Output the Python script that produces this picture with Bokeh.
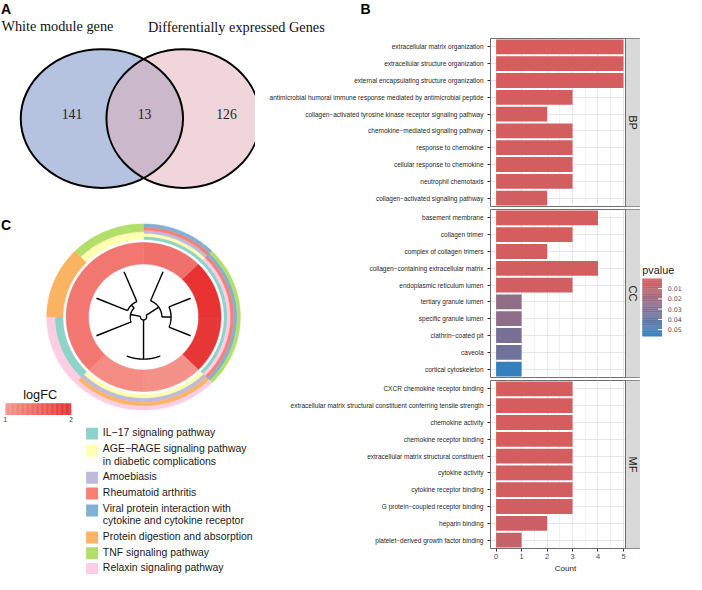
import numpy as np
from bokeh.plotting import figure
from bokeh.models import (Range1d, FactorRange, ColumnDataSource, LinearColorMapper,
                          FixedTicker, Span, BoxAnnotation, Label)
from bokeh.layouts import row, column
from bokeh.embed import file_html
from bokeh.resources import INLINE
from bokeh.core.properties import value
from bokeh.transform import transform

SANS = "Liberation Sans"
SERIF = "Liberation Serif"

# ---------------- data ----------------
venn_names = ["White module gene", "Differentially expressed Genes"]
venn_counts = [141, 13, 126]          # left only, both, right only

bp_terms = ["extracellular matrix organization",
            "extracellular structure organization",
            "external encapsulating structure organization",
            "antimicrobial humoral immune response mediated by antimicrobial peptide",
            "collagen\u2212activated tyrosine kinase receptor signaling pathway",
            "chemokine\u2212mediated signaling pathway",
            "response to chemokine",
            "cellular response to chemokine",
            "neutrophil chemotaxis",
            "collagen\u2212activated signaling pathway"]
bp_counts = [5, 5, 5, 3, 2, 3, 3, 3, 3, 2]
bp_pvalues = [0.0001, 0.0001, 0.0001, 0.0008, 0.001, 0.001, 0.001, 0.001, 0.001, 0.0015]

cc_terms = ["basement membrane",
            "collagen trimer",
            "complex of collagen trimers",
            "collagen\u2212containing extracellular matrix",
            "endoplasmic reticulum lumen",
            "tertiary granule lumen",
            "specific granule lumen",
            "clathrin\u2212coated pit",
            "caveola",
            "cortical cytoskeleton"]
cc_counts = [4, 3, 2, 4, 3, 1, 1, 1, 1, 1]
cc_pvalues = [0.0002, 0.0005, 0.0008, 0.001, 0.002, 0.024, 0.025, 0.033, 0.036, 0.0565]

mf_terms = ["CXCR chemokine receptor binding",
            "extracellular matrix structural constituent conferring tensile strength",
            "chemokine activity",
            "chemokine receptor binding",
            "extracellular matrix structural constituent",
            "cytokine activity",
            "cytokine receptor binding",
            "G protein\u2212coupled receptor binding",
            "heparin binding",
            "platelet\u2212derived growth factor binding"]
mf_counts = [3, 3, 3, 3, 3, 3, 3, 3, 2, 1]
mf_pvalues = [0.0001, 0.0002, 0.0003, 0.0005, 0.001, 0.001, 0.001, 0.002, 0.004, 0.006]

facet_names = ["BP", "CC", "MF"]
count_ticks = [0, 1, 2, 3, 4, 5]
pvalue_ticks = [0.01, 0.02, 0.03, 0.04, 0.05]

kegg_pathways = ["IL\u221217 signaling pathway",
                 "AGE\u2212RAGE signaling pathway\nin diabetic complications",
                 "Amoebiasis",
                 "Rheumatoid arthritis",
                 "Viral protein interaction with\ncytokine and cytokine receptor",
                 "Protein digestion and absorption",
                 "TNF signaling pathway",
                 "Relaxin signaling pathway"]
kegg_colors = ["#8dd3c7", "#ffffb3", "#bebada", "#fb8072",
               "#80b1d3", "#fdb462", "#b3de69", "#fccde5"]
gene_logfc = [1.35, 1.95, 1.9, 1.05, 1.1, 1.3, 1.3, 1.3]
gene_pathways = [[0, 1, 2, 3, 4], [0, 7, 3, 4, 6], [0, 7, 3, 4, 6], [1, 2, 5, 7],
                 [1, 2, 5, 7], [0, 7], [5], [1, 6]]
leaf_depth = [50, 50, 50, 43, 43, 50, 50, 50]
node_children = [[1, 2], [0, 8], [3, 4], [6, 7], [5, 11], [9, 10, 12]]
node_depth = [27, 18, 43, 17, 13, 3]
logfc_ticks = [1, 2]


def ramp(c0, c1, n=256):
    a = np.array([int(c0[i:i + 2], 16) for i in (1, 3, 5)], float)
    b = np.array([int(c1[i:i + 2], 16) for i in (1, 3, 5)], float)
    t = np.linspace(0, 1, n)[:, None]
    rgb = a + (b - a) * t
    return ["#%02x%02x%02x" % tuple(int(round(v)) for v in c) for c in rgb]


# content px = S * (reference px) - 2
S = 0.98
X0 = 2.0 / S


def blank(w, h, x0, y0):
    f = figure(width=w, height=h, x_range=Range1d(x0, x0 + w / S),
               y_range=Range1d(y0 + h / S, y0), output_backend="svg",
               toolbar_location=None, min_border=0, title=None)
    f.axis.visible = False
    f.grid.visible = False
    f.outline_line_color = None
    return f


# ---------------- top strip: panel letters A, B and Venn titles ----------------
TW, TH = 686, 38
T = blank(TW, TH, X0, X0)
T.text(x=[2.5, 369.5], y=[10.6, 10.6], text=["A", "B"], text_font=value(SANS),
       text_font_style="bold", text_font_size="14px", text_color="black",
       text_baseline="middle", text_align="left")
T.text(x=[3, 152.5], y=[28.2, 29.2], text=venn_names, text_font=value(SERIF),
       text_font_size="14.3px", text_color="#111111", text_baseline="middle",
       text_align="left")
Y_SPLIT = X0 + TH / S

# ---------------- left figure (Venn circles + C) ----------------
LW, LH = 255, 574 - TH
L = blank(LW, LH, X0, Y_SPLIT)

L.text(x=[2.5], y=[231.0], text=["C"], text_font=value(SANS),
       text_font_style="bold", text_font_size="14px", text_color="black",
       text_baseline="middle", text_align="left")

vx = [105.5, 188.5]
vy = [122.5, 122.5]
vw = [165.6, 156.7]
vh = [141.6, 141.6]
L.ellipse(x=vx[0], y=vy[0], width=vw[0], height=vh[0], fill_color="#b5c3e1", line_color=None)
L.ellipse(x=vx[1], y=vy[1], width=vw[1], height=vh[1], fill_color="#e1adb5",
          fill_alpha=0.5, line_color=None)
L.ellipse(x=vx, y=vy, width=vw, height=vh, fill_color=None, line_color="black", line_width=2)
L.text(x=[75, 149, 232.7], y=[117.9] * 3, text=[str(v) for v in venn_counts],
       text_font=value(SERIF), text_font_size="13.7px", text_color="#222222",
       text_baseline="middle", text_align="center")

# circular KEGG plot
cx, cy, kx = 148.0, 325.0, 1.04
n_leaf = len(gene_logfc)
sec = 360.0 / n_leaf


def arc_xy(r, a):
    a = np.radians(np.asarray(a, float))
    return cx + r * kx * np.sin(a), cy - r * np.cos(a)


def sector(r0, r1, a0, a1, n=40):
    th = np.linspace(a0, a1, n)
    xo, yo = arc_xy(r1, th)
    xi, yi = arc_xy(r0, th[::-1])
    return list(np.r_[xo, xi]), list(np.r_[yo, yi])


band_xs, band_ys, band_c = [], [], []
R_B0, R_B1 = 79.0, 95.0
for g, pw in enumerate(gene_pathways):
    step = (R_B1 - R_B0) / len(pw)
    for j, k in enumerate(pw):
        xs_, ys_ = sector(R_B0 + j * step, R_B0 + (j + 1) * step, g * sec, (g + 1) * sec)
        band_xs.append(xs_); band_ys.append(ys_); band_c.append(kegg_colors[k])
L.patches(xs=band_xs, ys=band_ys, fill_color=band_c, line_color=band_c, line_width=0.5)

fc_mapper = LinearColorMapper(palette=ramp("#F5968C", "#E62D2D"), low=1, high=2)
fc_xs, fc_ys = [], []
for g in range(n_leaf):
    xs_, ys_ = sector(54.0, 76.0, g * sec, (g + 1) * sec)
    fc_xs.append(xs_); fc_ys.append(ys_)
fc_src = ColumnDataSource(dict(xs=fc_xs, ys=fc_ys, logfc=gene_logfc))
L.patches(xs="xs", ys="ys", source=fc_src, fill_color=transform("logfc", fc_mapper),
          line_color=transform("logfc", fc_mapper), line_width=0.5)

# dendrogram
ang = [sec * (i + 0.5) for i in range(n_leaf)]
dep = list(leaf_depth)
for ch, d in zip(node_children, node_depth):
    ang.append(float(np.mean([ang[c] for c in ch])))
    dep.append(d)
dxs, dys = [], []
for ch, d in zip(node_children, node_depth):
    for c in ch:
        x_, y_ = arc_xy(np.array([d, dep[c]], float), [ang[c], ang[c]])
        dxs.append(list(x_)); dys.append(list(y_))
    th = np.linspace(min(ang[c] for c in ch), max(ang[c] for c in ch), 60)
    x_, y_ = arc_xy(d, th)
    dxs.append(list(x_)); dys.append(list(y_))
L.multi_line(xs=dxs, ys=dys, line_color="black", line_width=1.4)

# logFC gradient legend
L.text(x=[42.5], y=[405.0], text=["logFC"], text_font=value(SANS), text_font_size="12.7px",
       text_color="#111111", text_baseline="middle", text_align="center")
gv = np.linspace(1, 2, 80)
gx = 7 + (gv - 1) * 67
grad_src = ColumnDataSource(dict(left=gx[:-1], right=gx[1:] + 0.3,
                                 v=(gv[:-1] + gv[1:]) / 2))
L.quad(left="left", right="right", top=413, bottom=425, source=grad_src,
       fill_color=transform("v", fc_mapper), line_color=None)
L.text(x=[7 + (t - 1) * 67 for t in logfc_ticks], y=[429.8] * 2,
       text=[str(t) for t in logfc_ticks], text_font=value(SANS), text_font_size="6.5px",
       text_color="#333333", text_baseline="middle", text_align="center")

# KEGG legend
lt_x, lt_y, lt_t, sq_y = [], [], [], []
yy = 443.0
for name in kegg_pathways:
    lines = name.split("\n")
    sq_y.append(yy + 1 + 1.5 * (len(lines) - 1))
    for j, ln in enumerate(lines):
        lt_x.append(106.5); lt_y.append(yy + 13 * j); lt_t.append(ln)
    yy += 13 * (len(lines) - 1) + 16
L.rect(x=[95.5] * len(sq_y), y=sq_y, width=12.2, height=12.2, fill_color=kegg_colors,
       line_color=None)
L.text(x=lt_x, y=lt_y, text=lt_t, text_font=value(SANS), text_font_size="10.45px",
       text_color="#1a1a1a", text_baseline="middle", text_align="left")

# ---------------- panel B facets ----------------
XMIN, XPANEL = -0.22, 5.08
FW_DATA, FW_STRIP = 135, 15
XMAX = XPANEL + FW_STRIP * (XPANEL - XMIN) / FW_DATA
FH = 168
BLEFT = 235

pmin = min(bp_pvalues + cc_pvalues + mf_pvalues)
pmax = max(bp_pvalues + cc_pvalues + mf_pvalues)
p_mapper = LinearColorMapper(palette=ramp("#D65D5D", "#3480BE"), low=pmin, high=pmax)


def facet(terms, counts, pvals, strip, bottom, show_x):
    src = ColumnDataSource(dict(term=terms, count=counts, p=pvals))
    f = figure(y_range=FactorRange(factors=terms[::-1]), x_range=Range1d(XMIN, XMAX),
               frame_width=FW_DATA + FW_STRIP, frame_height=FH, title=None,
               min_border_left=BLEFT, min_border_right=0, min_border_top=0,
               min_border_bottom=bottom, output_backend="svg", toolbar_location=None)
    f.hbar(y="term", left=0, right="count", height=0.88, source=src,
           fill_color=transform("p", p_mapper), line_color=None)
    f.xgrid.ticker = FixedTicker(ticks=count_ticks,
                                 minor_ticks=[t + 0.5 for t in count_ticks[:-1]])
    f.xgrid.grid_line_color = "#e6e6e6"
    f.xgrid.minor_grid_line_color = "#f0f0f0"
    f.ygrid.grid_line_color = "#e6e6e6"
    f.outline_line_color = "#6e6e6e"
    f.outline_line_width = 1
    f.add_layout(BoxAnnotation(left=XPANEL, fill_color="#d9d9d9", fill_alpha=1,
                               line_color=None))
    f.add_layout(Span(location=XPANEL, dimension="height", line_color="#6e6e6e",
                      line_width=1))
    f.add_layout(Label(x=(XPANEL + XMAX) / 2, y=len(terms) / 2, text=strip,
                       angle=-np.pi / 2, text_align="center", text_baseline="middle",
                       text_font=SANS, text_font_size="11px", text_color="#1a1a1a"))
    ax = f.yaxis[0]
    ax.major_label_text_font = SANS
    ax.major_label_text_font_size = "6.5px"
    ax.major_label_text_color = "#262626"
    ax.major_tick_out = 3
    ax.major_tick_in = 0
    ax.major_tick_line_color = "#333333"
    ax.axis_line_color = None
    ax.major_label_standoff = 4
    xa = f.xaxis[0]
    if show_x:
        xa.ticker = FixedTicker(ticks=count_ticks)
        xa.minor_tick_line_color = None
        xa.major_label_text_font = SANS
        xa.major_label_text_font_size = "7.5px"
        xa.major_label_text_color = "#4d4d4d"
        xa.major_tick_out = 3
        xa.major_tick_in = 0
        xa.major_tick_line_color = "#333333"
        xa.axis_line_color = None
        xa.major_label_standoff = 2
        xa.axis_label = "Count"
        xa.axis_label_text_font = SANS
        xa.axis_label_text_font_size = "8px"
        xa.axis_label_text_font_style = "normal"
        xa.axis_label_text_color = "#1a1a1a"
        xa.axis_label_standoff = 2
    else:
        xa.visible = False
    f.background_fill_color = "white"
    f.border_fill_color = "white"
    return f


fbp = facet(bp_terms, bp_counts, bp_pvalues, facet_names[0], 3, False)
fcc = facet(cc_terms, cc_counts, cc_pvalues, facet_names[1], 3, False)
fmf = facet(mf_terms, mf_counts, mf_pvalues, facet_names[2], 0, True)

# ---------------- pvalue colour bar (beside CC facet) ----------------
CBW, CBH = 44, FH + 3
cb_x0 = X0 + (LW + BLEFT + FW_DATA + FW_STRIP) / S
cb_y0 = Y_SPLIT + (FH + 3) / S
C = blank(CBW, CBH, cb_x0, cb_y0)
bar_top, bar_h, bar_l, bar_w = 287.0, 60.0, 657.0, 20.0


def p_to_y(p):
    return bar_top + (np.asarray(p, float) - pmin) / (pmax - pmin) * bar_h


pv = np.linspace(pmin, pmax, 90)
bar_src = ColumnDataSource(dict(top=p_to_y(pv[:-1]), bottom=p_to_y(pv[1:]) + 0.3,
                                p=(pv[:-1] + pv[1:]) / 2))
C.quad(left=bar_l, right=bar_l + bar_w, top="top", bottom="bottom", source=bar_src,
       fill_color=transform("p", p_mapper), line_color=None)
ty = p_to_y(pvalue_ticks)
C.segment(x0=bar_l + bar_w - 4, x1=bar_l + bar_w, y0=ty, y1=ty, line_color="white",
          line_width=1)
C.text(x=[bar_l + bar_w + 6] * len(pvalue_ticks), y=ty,
       text=["%.2f" % t for t in pvalue_ticks], text_font=value("DejaVu Sans"),
       text_font_size="6.3px", text_color="#4d4d4d", text_baseline="middle",
       text_align="left")
C.text(x=[bar_l], y=[278.5], text=["pvalue"], text_font=value(SANS),
       text_font_size="10.8px", text_color="#1a1a1a", text_baseline="middle",
       text_align="left")

right_col = column(fbp, row(fcc, C, spacing=0), fmf, spacing=0)
layout = column(T, row(L, right_col, spacing=0), spacing=0)
open("out.html", "w").write(file_html(layout, INLINE))
